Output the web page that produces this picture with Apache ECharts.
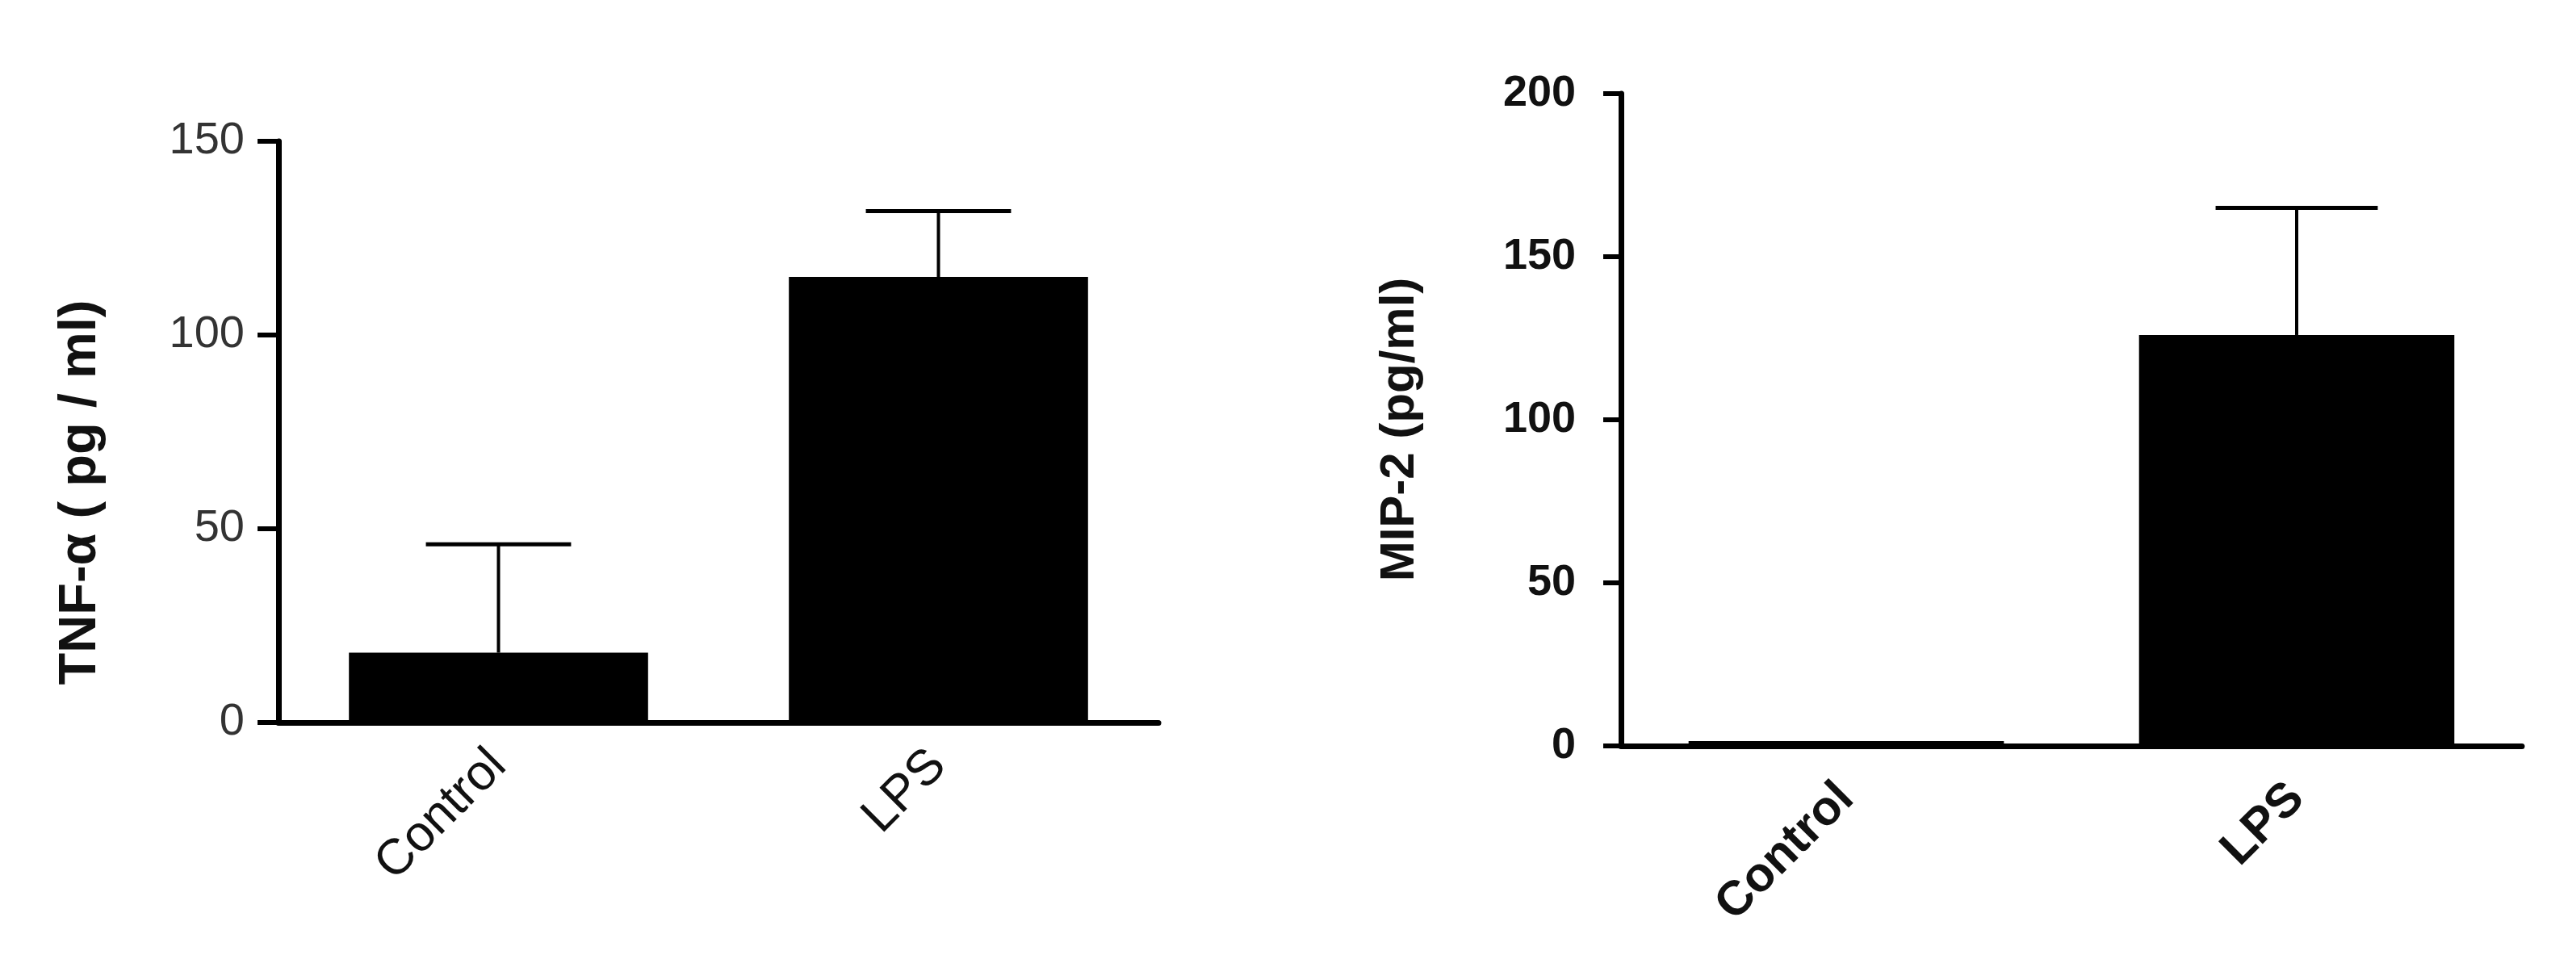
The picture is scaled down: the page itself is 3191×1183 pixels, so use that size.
<!DOCTYPE html>
<html>
<head>
<meta charset="utf-8">
<script src="https://cdn.jsdelivr.net/npm/echarts@6/dist/echarts.min.js"></script>
<style>
    html, body { margin: 0; padding: 0; background: #fff; }
    #chart { width: 3191px; height: 1183px; }
</style>
</head>
<body>
<div id="chart"></div>
<script>
    // groups on the x axis
    var categories = ['Control', 'LPS'];
    // TNF-α panel
    var tnfMean = [18, 115];
    var tnfErr = [28, 17];
    var tnfTicks = [0, 50, 100, 150];
    // MIP-2 panel
    var mipMean = [1.5, 126];
    var mipErr = [0, 39];
    var mipTicks = [0, 50, 100, 150, 200];

    function errData(mean, err) {
        var out = [];
        for (var i = 0; i < mean.length; i++) {
            out.push([i, mean[i], err[i]]);
        }
        return out;
    }

    function makeErrRender(ratio) {
        return function (params, api) {
            var xi = api.value(0);
            var m = api.value(1);
            var e = api.value(2);
            if (!e) return { type: 'group', children: [] };
            var base = api.coord([xi, m]);
            var top = api.coord([xi, m + e]);
            var half = api.size([1, 0])[0] * ratio / 2;
            return {
                type: 'group',
                children: [
                    { type: 'line', shape: { x1: top[0], y1: base[1], x2: top[0], y2: top[1] }, style: { stroke: '#000', lineWidth: 4 } },
                    { type: 'line', shape: { x1: top[0] - half, y1: top[1], x2: top[0] + half, y2: top[1] }, style: { stroke: '#000', lineWidth: 5 } }
                ]
            };
        };
    }

    var myChart = echarts.init(document.getElementById('chart'));
    var option = {
        backgroundColor: '#fff',
        animation: false,
        grid: [
            { left: 345, top: 175, width: 1090, bottom: 288, containLabel: false },
            { left: 2008, top: 116, width: 1116, bottom: 259, containLabel: false }
        ],
        xAxis: [
            {
                type: 'category', gridIndex: 0, data: categories,
                axisLine: { lineStyle: { color: '#000', width: 7 } },
                axisTick: { alignWithLabel: true, length: 22, lineStyle: { color: '#000', width: 8 } },
                axisLabel: { rotate: 45, margin: 44, color: '#111', fontSize: 62, fontFamily: 'Liberation Sans' }
            },
            {
                type: 'category', gridIndex: 1, data: categories,
                axisLine: { lineStyle: { color: '#000', width: 7 } },
                axisTick: { alignWithLabel: true, length: 22, lineStyle: { color: '#000', width: 7 } },
                axisLabel: { rotate: 45, margin: 56, color: '#111', fontSize: 60, fontWeight: 'bold', fontFamily: 'Liberation Sans' }
            }
        ],
        yAxis: [
            {
                type: 'value', gridIndex: 0, min: tnfTicks[0], max: tnfTicks[tnfTicks.length - 1], interval: 50,
                name: 'TNF-α ( pg / ml)', nameLocation: 'middle', nameGap: 212, nameRotate: 90,
                nameTextStyle: { fontSize: 65, fontWeight: 'bold', color: '#111', fontFamily: 'Liberation Sans', padding: [0, 150, 0, 0] },
                splitLine: { show: false },
                axisLine: { show: true, lineStyle: { color: '#000', width: 7 } },
                axisTick: { show: true, length: 26, lineStyle: { color: '#000', width: 6 } },
                axisLabel: { margin: 42, color: '#333', fontSize: 56, fontFamily: 'Liberation Sans Narrow, Liberation Sans' }
            },
            {
                type: 'value', gridIndex: 1, min: mipTicks[0], max: mipTicks[mipTicks.length - 1], interval: 50,
                name: 'MIP-2 (pg/ml)', nameLocation: 'middle', nameGap: 244, nameRotate: 90,
                nameTextStyle: { fontSize: 60, fontWeight: 'bold', color: '#111', fontFamily: 'Liberation Sans', padding: [0, 24, 0, 0] },
                splitLine: { show: false },
                axisLine: { show: true, lineStyle: { color: '#000', width: 7 } },
                axisTick: { show: true, length: 22, lineStyle: { color: '#000', width: 6 } },
                axisLabel: { margin: 56, color: '#111', fontSize: 54, fontWeight: 'bold', fontFamily: 'Liberation Sans' }
            }
        ],
        series: [
            { type: 'bar', xAxisIndex: 0, yAxisIndex: 0, data: tnfMean, barWidth: '68%', itemStyle: { color: '#000' } },
            { type: 'custom', xAxisIndex: 0, yAxisIndex: 0, data: errData(tnfMean, tnfErr), renderItem: makeErrRender(0.33), z: 3 },
            { type: 'bar', xAxisIndex: 1, yAxisIndex: 1, data: mipMean, barWidth: '70%', itemStyle: { color: '#000' } },
            { type: 'custom', xAxisIndex: 1, yAxisIndex: 1, data: errData(mipMean, mipErr), renderItem: makeErrRender(0.36), z: 3 }
        ]
    };
    myChart.setOption(option);
</script>
</body>
</html>
